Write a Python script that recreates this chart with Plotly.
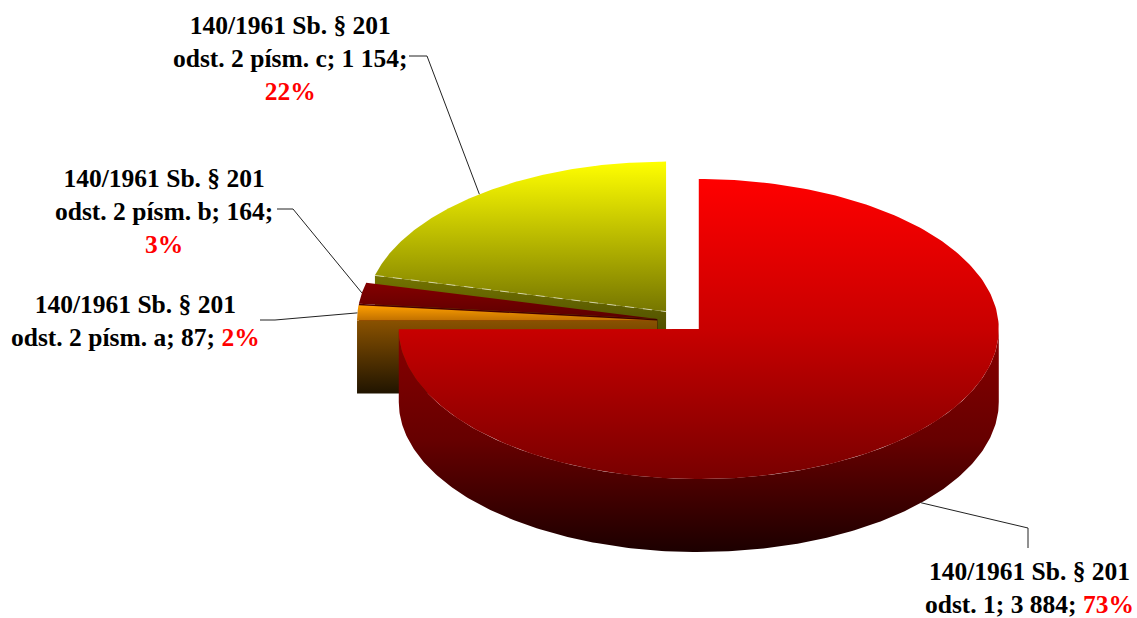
import numpy as np
import plotly.graph_objects as go

# ---------------- data ----------------
categories = [
    "140/1961 Sb. § 201 odst. 1",
    "140/1961 Sb. § 201 odst. 2 písm. a",
    "140/1961 Sb. § 201 odst. 2 písm. b",
    "140/1961 Sb. § 201 odst. 2 písm. c",
]
values = [3884, 87, 164, 1154]

# ---------------- style ----------------
top_colors = [
    ["#FF0000", "#C80000", "#780000"],
    ["#FFA000", "#C07000"],
    ["#840000", "#5C0000"],
    ["#FFFF00", "#767600"],
]
side_colors = [
    ["#880000", "#660000", "#1C0000"],
    ["#8A5200", "#201400"],
    ["#4A0000", "#1A0000"],
    ["#747400", "#2A2A00"],
]
pct_on_new_line = [False, False, True, True]

W, H = 1137, 618
CX, CY = 681, 321          # pie centre (pixels)
RX, RY = 300, 150          # ellipse radii
DEPTH = 73                 # thickness
EXPLODE = 0.08             # explode distance (fraction of radius)
N = 240
FONT_SIZE = 25.5

# label placement (pixel coords): centre of text block, leader start, elbow
label_pos = [(1029, 588), (135, 321), (164, 211), (290, 58)]
leader_start = [(1028, 548), (260, 320), (277, 209), (409, 56)]
leader_elbow = [(1028, 528), (275, 320), (293, 209), (427, 56)]


def warp(theta):
    # perspective calibration of the 3-D view
    return np.interp(theta, [0, 180, 262, 271, 285, 360],
                     [0, 180, 267.6, 276.5, 286.5, 360])


def pt(ax, ay, phi, dz=0.0):
    t = np.radians(phi)
    return ax + RX * np.sin(t), ay - RY * np.cos(t) + dz


def cscale(cols):
    n = len(cols)
    return [[i / (n - 1), c] for i, c in enumerate(cols)]


def poly_trace(xs, ys, cols):
    xs = np.asarray(xs, float)
    ys = np.asarray(ys, float)
    return go.Scatter(
        x=xs, y=ys, mode="lines", fill="toself",
        line=dict(width=0, color="rgba(0,0,0,0)"),
        fillgradient=dict(type="vertical", colorscale=cscale(cols),
                          start=float(ys.min()), stop=float(ys.max())),
        hoverinfo="skip", showlegend=False,
    )


total = sum(values)
cum = np.concatenate([[0], np.cumsum(values)]) / total * 360.0

slices = []
for i, v in enumerate(values):
    th0, th1 = cum[i], cum[i + 1]
    p0, p1 = float(warp(th0)), float(warp(th1))
    pm = float(warp((th0 + th1) / 2))
    tm = np.radians(pm)
    ax = CX + RX * EXPLODE * np.sin(tm)
    ay = CY - RY * EXPLODE * np.cos(tm)
    slices.append(dict(i=i, p0=p0, p1=p1, pm=pm, ax=ax, ay=ay))

# painter's order: back slices first
order = sorted(slices, key=lambda s: -np.cos(np.radians(s["pm"])))

fig = go.Figure()
for s in order:
    i, p0, p1, ax, ay = s["i"], s["p0"], s["p1"], s["ax"], s["ay"]
    # start radial face
    if np.sin(np.radians(p0)) < -1e-6:
        ox, oy = pt(ax, ay, p0)
        fig.add_trace(poly_trace([ax, ox, ox, ax, ax],
                                 [ay, oy, oy + DEPTH, ay + DEPTH, ay],
                                 side_colors[i]))
    # end radial face
    if np.sin(np.radians(p1)) > 1e-6:
        ox, oy = pt(ax, ay, p1)
        fig.add_trace(poly_trace([ax, ox, ox, ax, ax],
                                 [ay, oy, oy + DEPTH, ay + DEPTH, ay],
                                 side_colors[i]))
    # outer wall (front half only)
    a0, a1 = max(p0, 90.0), min(p1, 270.0)
    if a1 > a0:
        ph = np.linspace(a0, a1, N)
        tx, ty = pt(ax, ay, ph)
        bx, by = pt(ax, ay, ph[::-1], DEPTH)
        fig.add_trace(poly_trace(np.concatenate([tx, bx, tx[:1]]),
                                 np.concatenate([ty, by, ty[:1]]),
                                 side_colors[i]))
    # top face
    ph = np.linspace(p0, p1, N)
    tx, ty = pt(ax, ay, ph)
    fig.add_trace(poly_trace(np.concatenate([[ax], tx, [ax]]),
                             np.concatenate([[ay], ty, [ay]]),
                             top_colors[i]))
    if i == 3:
        ox, oy = pt(ax, ay, p0)
        fig.add_trace(go.Scatter(x=[ox, ax], y=[oy, ay], mode="lines",
                                 line=dict(color="rgba(225,225,190,0.8)", width=1, dash="dash"),
                                 hoverinfo="skip", showlegend=False))

# labels and leader lines
for s in slices:
    i = s["i"]
    cat = categories[i]
    val = f"{values[i]:,}".replace(",", " ")
    pct = round(values[i] / total * 100)
    head, tail = cat.split("§ 201 ")
    line1 = head + "§ 201"
    pct_html = f"<span style='color:#FF0000'>{pct}%</span>"
    sep = "<br>" if pct_on_new_line[i] else " "
    text = f"<b>{line1}<br>{tail}; {val};{sep}{pct_html}</b>"
    lx, ly = label_pos[i]
    fig.add_annotation(x=lx, y=ly, xref="x", yref="y", text=text, showarrow=False,
                       xanchor="center", yanchor="middle", align="center",
                       font=dict(family="Liberation Serif", size=FONT_SIZE, color="black"))
    # anchor on the slice edge at its middle angle
    ax_, ay_ = pt(s["ax"], s["ay"], s["pm"])
    if np.cos(np.radians(s["pm"])) < -0.5:
        ay_ += DEPTH
    sx, sy = leader_start[i]
    ex, ey = leader_elbow[i]
    fig.add_trace(go.Scatter(x=[sx, ex, ax_], y=[sy, ey, ay_], mode="lines",
                             line=dict(color="#222222", width=1),
                             hoverinfo="skip", showlegend=False))

fig.update_layout(
    width=W, height=H,
    margin=dict(l=0, r=0, t=0, b=0),
    paper_bgcolor="white", plot_bgcolor="white",
    xaxis=dict(range=[0, W], visible=False, fixedrange=True),
    yaxis=dict(range=[H, 0], visible=False, fixedrange=True),
    showlegend=False, hovermode=False,
)

fig.write_html("out.html", config={"displayModeBar": False},
               post_script="document.body.style.margin='0';document.body.style.overflow='hidden';")
